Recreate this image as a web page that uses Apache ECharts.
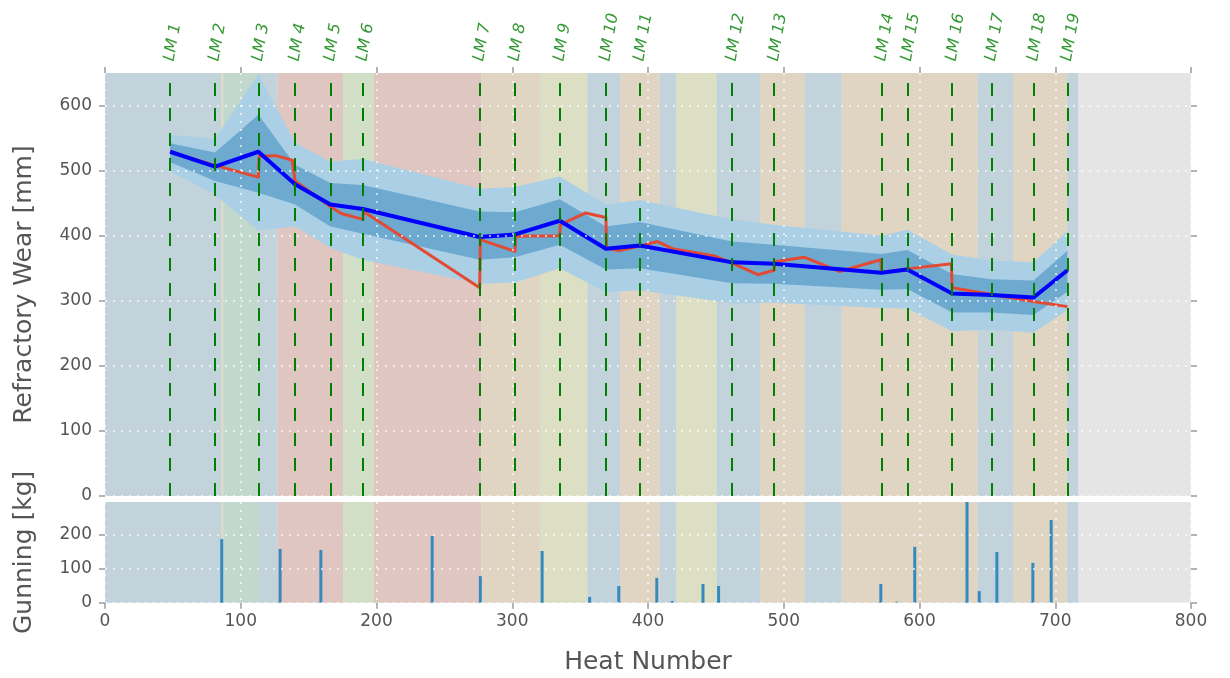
<!DOCTYPE html>
<html>
<head>
<meta charset="utf-8">
<script src="https://cdn.jsdelivr.net/npm/echarts@6/dist/echarts.min.js"></script>
<style>
  html, body { margin: 0; padding: 0; background: #ffffff; }
  #chart { width: 1230px; height: 678px; }
</style>
</head>
<body>
<div id="chart"></div>
<script>
// Ladle landmarks (heat number of each relining/measurement landmark)
const landmarkNames = ['LM 1','LM 2','LM 3','LM 4','LM 5','LM 6','LM 7','LM 8','LM 9','LM 10',
  'LM 11','LM 12','LM 13','LM 14','LM 15','LM 16','LM 17','LM 18','LM 19'];
const landmarkHeats = [48, 81, 113, 140, 166, 190, 276, 302, 335, 369, 394, 462, 493, 572, 591, 624, 653, 684, 709];

// Model prediction at each landmark and its confidence bands [mm]
const predictedWear = [529, 506, 529, 479, 448, 441, 398, 402, 423, 380, 385, 359, 357, 343, 348, 311, 309, 305, 347];
const innerUpper = [542, 528, 586, 509, 481, 478, 437, 436, 456, 414, 421, 391, 386, 372, 378, 341, 333, 331, 377];
const innerLower = [513, 484, 466, 448, 414, 403, 363, 367, 386, 348, 350, 327, 326, 317, 318, 282, 282, 278, 314];
const outerUpper = [555, 549, 648, 543, 514, 518, 472, 475, 491, 448, 455, 425, 417, 400, 409, 371, 362, 359, 407];
const outerLower = [499, 463, 408, 414, 381, 363, 326, 328, 350, 313, 316, 296, 297, 289, 288, 253, 256, 251, 286];

// Measured refractory wear [mm]
const measuredHeats = [48, 81, 113, 113.5, 126, 138, 140, 166, 174, 190, 190.5, 276, 276.5, 302, 302.5, 335, 335.5,
  354, 369, 369.5, 379, 394, 407, 418, 449, 462, 481, 493, 493.5, 515, 541, 571.5, 572, 591, 623.5, 624, 684, 709];
const measuredWear = [529, 508, 490, 522, 523, 516, 484, 445, 434, 425, 437, 320, 394, 376, 399, 400, 417,
  435, 428, 381, 377, 384, 391, 380, 369, 358, 340, 347, 360, 367, 345, 363, 344, 349, 357, 320, 299, 291];

// Gunning material applied [kg]
const gunningHeats = [86, 129, 159, 241, 276.5, 322, 357, 378.5, 406.5, 418, 440.5, 452, 571.5, 583.5, 596.5, 635, 644, 657, 683.5, 697];
const gunningKg = [187, 158, 155, 196, 78, 152, 17, 49, 73, 5, 55, 49, 55, 3, 164, 296, 34, 149, 117, 243];

// Campaign periods (steel grade families) shaded behind both panels
const periodStart = [0, 85.5, 87.3, 113.5, 127, 175.3, 198, 277.3, 320.4, 355.4, 379.7, 408.6, 420.9, 450.6, 482.8, 515.4, 542.7, 642.9, 668.9, 708.8];
const periodEnd = [85.5, 87.3, 113.5, 127, 175.3, 198, 277.3, 320.4, 355.4, 379.7, 408.6, 420.9, 450.6, 482.8, 515.4, 542.7, 642.9, 668.9, 708.8, 716.9];
const periodKind = ['A', 'Y', 'G', 'A', 'R', 'L', 'R', 'T', 'O', 'A', 'T', 'A', 'O', 'A', 'T', 'A', 'T', 'A', 'T', 'A'];

// Axis ranges and ticks
const heatMax = 800;
const wearMax = 650;
const gunMax = 296;
const heatTicks = [0, 100, 200, 300, 400, 500, 600, 700, 800];
const wearTicks = [0, 100, 200, 300, 400, 500, 600];
const gunTicks = [0, 100, 200];

const kindColor = {
  A: '#c2d3dc', R: '#dfc6c1', T: '#e0d5c3', O: '#dcdfc3',
  G: '#c3d8cc', L: '#d1dfc6', Y: '#d9dcc4'
};
const plotBg = '#e5e5e5';
const font = 'DejaVu Sans';
const textGray = '#555555';
const tickStyle = { color: '#9a9a9a', width: 1.5 };
const gridLine = { color: '#ffffff', type: [2, 6], width: 1.5, opacity: 0.85 };

const periodAreas = [[{ xAxis: 0, itemStyle: { color: plotBg } }, { xAxis: heatMax }]].concat(
  periodStart.map((s, i) => [{ xAxis: s, itemStyle: { color: kindColor[periodKind[i]] } }, { xAxis: periodEnd[i] }])
);

const pairs = (xs, ys) => xs.map((x, i) => [x, ys[i]]);

function valueX(gridIndex, position, showLabels) {
  return {
    type: 'value', gridIndex, position, min: 0, max: heatMax, interval: 100, z: 3,
    axisLine: { show: false, onZero: false },
    axisTick: { show: true, length: 6, lineStyle: tickStyle, customValues: heatTicks },
    axisLabel: { show: showLabels, fontSize: 17, color: textGray, fontFamily: font, margin: 10, customValues: heatTicks },
    splitLine: { show: true, lineStyle: gridLine }
  };
}
function valueY(gridIndex, position, max, ticks, showLabels) {
  return {
    type: 'value', gridIndex, position, min: 0, max, interval: 100, z: 3,
    axisLine: { show: false, onZero: false },
    axisTick: { show: true, length: 6, lineStyle: tickStyle, customValues: ticks },
    axisLabel: { show: showLabels, fontSize: 17, color: textGray, fontFamily: font, margin: 13, customValues: ticks },
    splitLine: { show: showLabels, lineStyle: gridLine }
  };
}

const xTop = valueX(0, 'top', false);
const xBottom = Object.assign(valueX(1, 'bottom', true), {
  name: 'Heat Number', nameLocation: 'middle', nameGap: 47,
  nameTextStyle: { fontSize: 25, color: textGray, fontFamily: font }
});
const yWear = Object.assign(valueY(0, 'left', wearMax, wearTicks, true), {
  name: 'Refractory Wear [mm]', nameLocation: 'middle', nameGap: 68,
  nameTextStyle: { fontSize: 25, color: textGray, fontFamily: font }
});
const yWearRight = valueY(0, 'right', wearMax, wearTicks, false);
const yGun = Object.assign(valueY(1, 'left', gunMax, gunTicks, true), {
  name: 'Gunning [kg]', nameLocation: 'middle', nameGap: 68,
  nameTextStyle: { fontSize: 25, color: textGray, fontFamily: font }
});
const yGunRight = valueY(1, 'right', gunMax, gunTicks, false);

const bandLight = '#abd0e6';
const bandDark = '#6eaad0';

// Filled band between two landmark-aligned bounds, drawn as one polygon
function bandSeries(name, lower, upper, color) {
  return {
    name, type: 'custom', xAxisIndex: 0, yAxisIndex: 0, silent: true, z: 2,
    data: landmarkHeats.map((h, i) => [h, lower[i], upper[i]]),
    encode: { x: 0, y: [1, 2] },
    renderItem: (params, api) => {
      if (params.dataIndex !== 0) return null;
      const top = landmarkHeats.map((h, i) => api.coord([h, upper[i]]));
      const bottom = landmarkHeats.map((h, i) => api.coord([h, lower[i]])).reverse();
      return { type: 'polygon', shape: { points: top.concat(bottom) }, style: { fill: color } };
    }
  };
}

const option = {
  animation: false,
  backgroundColor: '#ffffff',
  textStyle: { fontFamily: font },
  grid: [
    { left: 105, right: 39, top: 73, height: 423 },
    { left: 105, right: 39, top: 502, height: 100.7 }
  ],
  xAxis: [xTop, xBottom],
  yAxis: [yWear, yWearRight, yGun, yGunRight],
  series: [
    bandSeries('outer band', outerLower, outerUpper, bandLight),
    bandSeries('inner band', innerLower, innerUpper, bandDark),
    {
      name: 'measured', type: 'line', xAxisIndex: 0, yAxisIndex: 0,
      data: pairs(measuredHeats, measuredWear), symbol: 'none',
      lineStyle: { color: '#e24a33', width: 3, join: 'round' }, z: 2,
      markArea: { silent: true, data: periodAreas }
    },
    {
      name: 'predicted', type: 'line', xAxisIndex: 0, yAxisIndex: 0,
      data: pairs(landmarkHeats, predictedWear), symbol: 'none',
      lineStyle: { color: '#0000ff', width: 4, join: 'round' }, z: 2,
      markLine: {
        silent: true, symbol: ['none', 'none'], label: { show: false },
        lineStyle: { color: '#008000', width: 2, type: [13, 12] },
        data: landmarkHeats.map(h => ({ xAxis: h }))
      }
    },
    {
      name: 'landmarks', type: 'scatter', xAxisIndex: 0, yAxisIndex: 0, clip: false,
      data: landmarkHeats.map(h => [h, wearMax]), symbolSize: 0, silent: true,
      label: {
        show: true, position: 'top', distance: 16, rotate: 80,
        align: 'left', verticalAlign: 'middle', offset: [-4, 0],
        formatter: p => landmarkNames[p.dataIndex],
        color: '#008000', fontSize: 16, fontFamily: font, fontStyle: 'italic'
      }
    },
    {
      name: 'gunning', type: 'bar', xAxisIndex: 1, yAxisIndex: 2,
      data: pairs(gunningHeats, gunningKg), barWidth: 3,
      itemStyle: { color: '#348abd' }, z: 2,
      markArea: { silent: true, data: periodAreas }
    }
  ]
};

const chart = echarts.init(document.getElementById('chart'), null, { renderer: 'canvas' });
chart.setOption(option);
</script>
</body>
</html>
